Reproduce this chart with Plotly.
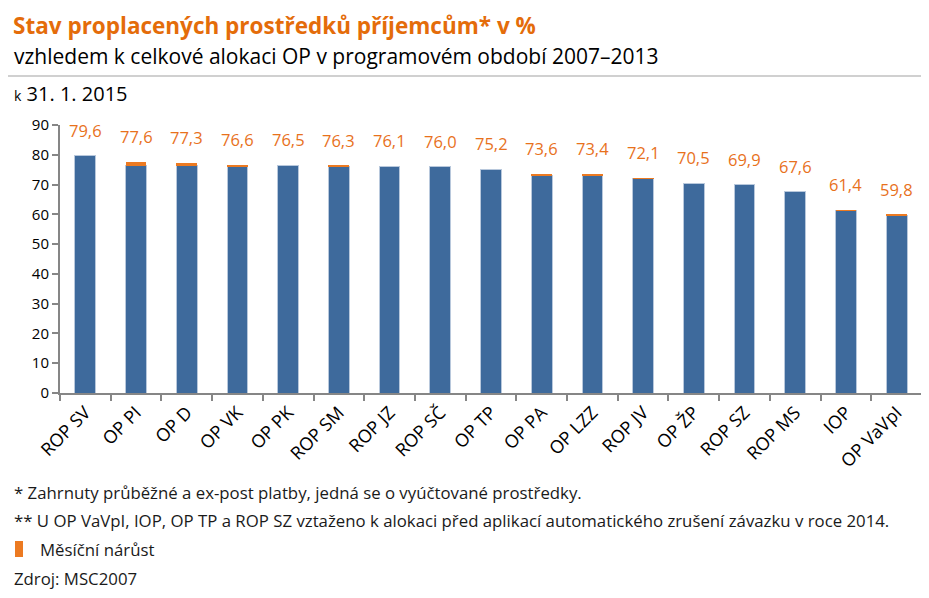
import plotly.graph_objects as go

categories = ["ROP SV", "OP PI", "OP D", "OP VK", "OP PK", "ROP SM", "ROP JZ", "ROP SČ",
              "OP TP", "OP PA", "OP LZZ", "ROP JV", "OP ŽP", "ROP SZ", "ROP MS", "IOP", "OP VaVpI"]
base_values = [79.6, 76.3, 76.4, 76.1, 76.5, 76.2, 76.1, 76.0, 75.2, 73.2, 73.0, 72.0, 70.5, 69.9, 67.6, 61.3, 59.7]
monthly_increase = [0.0, 1.3, 0.9, 0.5, 0.0, 0.1, 0.0, 0.0, 0.0, 0.4, 0.4, 0.1, 0.0, 0.0, 0.0, 0.1, 0.1]
total_labels = ["79,6", "77,6", "77,3", "76,6", "76,5", "76,3", "76,1", "76,0", "75,2", "73,6",
                "73,4", "72,1", "70,5", "69,9", "67,6", "61,4", "59,8"]
totals = [79.6, 77.6, 77.3, 76.6, 76.5, 76.3, 76.1, 76.0, 75.2, 73.6, 73.4, 72.1, 70.5, 69.9, 67.6, 61.4, 59.8]
y_ticks = [0, 10, 20, 30, 40, 50, 60, 70, 80, 90]

FONT = "Open Sans"
BLUE = "#3E6A9C"
ORANGE = "#EC7A21"
LABEL_ORANGE = "#E8711C"

OFF = 8  # page body margin offset
W, H = 929 - OFF, 598 - OFF
L, R, T, B = 60 - OFF, 7, 125 - OFF, 205
PW, PH = W - L - R, H - T - B


def px_x(px):
    return (px - OFF - L) / PW


def px_y(py):
    return (H - B - (py - OFF)) / PH


fig = go.Figure()
fig.add_trace(go.Bar(x=categories, y=base_values, marker=dict(color=BLUE, line=dict(color="#B8C8DC", width=1)),
                     showlegend=False, width=0.41, hoverinfo="y"))
fig.add_trace(go.Bar(x=categories, y=monthly_increase, name="Měsíční nárůst",
                     marker=dict(color=ORANGE, line=dict(width=0)), width=0.41, showlegend=False))

for c, t, lab in zip(categories, totals, total_labels):
    fig.add_annotation(x=c, y=t, text=lab, showarrow=False, yanchor="bottom", yshift=12,
                       font=dict(family=FONT, size=16.5, color=LABEL_ORANGE))

fig.update_layout(
    barmode="stack",
    width=W, height=H,
    margin=dict(l=L, r=R, t=T, b=B, autoexpand=False),
    plot_bgcolor="white", paper_bgcolor="white",
    font=dict(family=FONT, color="#000000"),
    showlegend=False,
    xaxis=dict(type="category", showgrid=False, showline=True, linecolor="#868686", linewidth=2,
               ticks="outside", tickson="boundaries", ticklen=6, tickcolor="#868686", tickwidth=2,
               tickangle=-45, tickfont=dict(family=FONT, size=18, color="#000000"), automargin=False),
    yaxis=dict(range=[0, 90], tickvals=y_ticks, showgrid=False, showline=True, linecolor="#868686",
               linewidth=2, ticks="outside", ticklen=6, tickcolor="#868686", tickwidth=2,
               tickfont=dict(family=FONT, size=15, color="#000000"), zeroline=False, automargin=False),
)

fig.add_annotation(xref="paper", yref="paper", x=px_x(12), y=px_y(OFF + 1), xanchor="left", yanchor="top",
                   text="<b>Stav proplacených prostředků příjemcům* v %</b>", showarrow=False,
                   font=dict(family=FONT, size=22.5, color="#E46C0A"), borderpad=0)
fig.add_annotation(xref="paper", yref="paper", x=px_x(12), y=px_y(56), xanchor="left", yanchor="middle",
                   text="vzhledem k celkové alokaci OP v programovém období 2007–2013", showarrow=False,
                   font=dict(family=FONT, size=21, color="#000000"))
fig.add_annotation(xref="paper", yref="paper", x=px_x(12), y=px_y(93), xanchor="left", yanchor="middle",
                   text="<span style='font-size:14px'>k</span> 31. 1. 2015", showarrow=False,
                   font=dict(family=FONT, size=20, color="#000000"))
fig.add_shape(type="line", xref="paper", yref="paper", x0=px_x(OFF), x1=px_x(929),
              y0=px_y(76), y1=px_y(76), line=dict(color="#D0D0D0", width=2))

foot = dict(family=FONT, size=16.8, color="#1a1a1a")
fig.add_annotation(xref="paper", yref="paper", x=px_x(12), y=px_y(492), xanchor="left", yanchor="middle",
                   text="* Zahrnuty průběžné a ex-post platby, jedná se o vyúčtované prostředky.", showarrow=False,
                   font=foot)
fig.add_annotation(xref="paper", yref="paper", x=px_x(12), y=px_y(520), xanchor="left", yanchor="middle",
                   text="** U OP VaVpI, IOP, OP TP a ROP SZ vztaženo k alokaci před aplikací automatického zrušení závazku v roce 2014.",
                   showarrow=False, font=foot)
fig.add_shape(type="rect", xref="paper", yref="paper", x0=px_x(15), x1=px_x(23), y0=px_y(557), y1=px_y(541),
              fillcolor=ORANGE, line=dict(width=0))
fig.add_annotation(xref="paper", yref="paper", x=px_x(38), y=px_y(549), xanchor="left", yanchor="middle",
                   text="Měsíční nárůst", showarrow=False, font=foot)
fig.add_annotation(xref="paper", yref="paper", x=px_x(12), y=px_y(578), xanchor="left", yanchor="middle",
                   text="Zdroj: MSC2007", showarrow=False, font=foot)

fig.write_html("out.html")
